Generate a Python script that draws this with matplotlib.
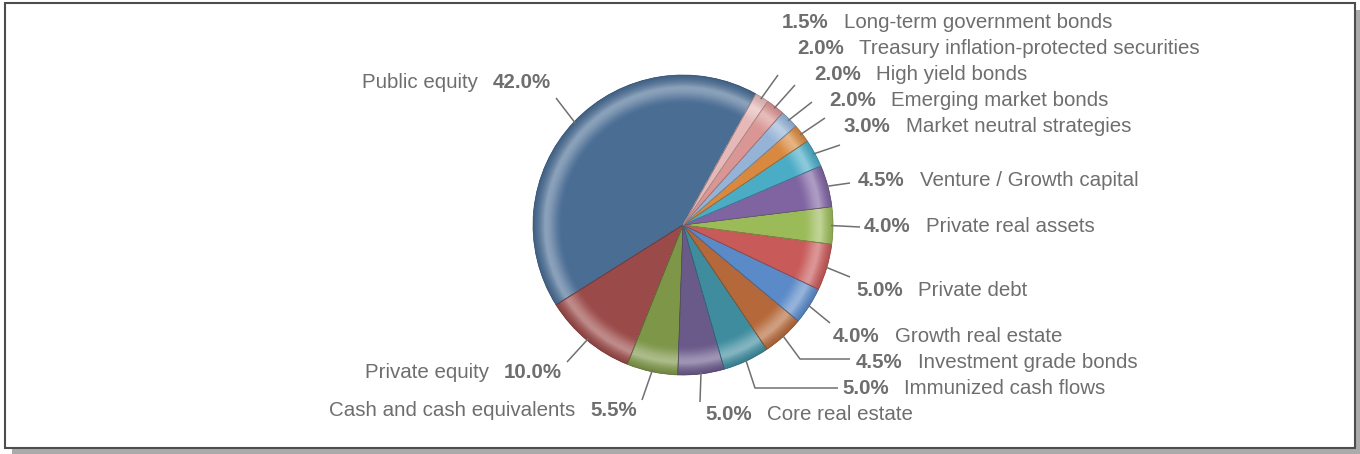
import matplotlib.pyplot as plt
import matplotlib.patches as mpatches
import matplotlib.colors as mcolors
import numpy as np

plt.rcParams['font.family'] = ['Liberation Sans', 'DejaVu Sans']

W, H = 1360, 454

names = ["Public equity", "Private equity", "Cash and cash equivalents", "Core real estate",
         "Immunized cash flows", "Investment grade bonds", "Growth real estate", "Private debt",
         "Private real assets", "Venture / Growth capital", "Market neutral strategies",
         "Emerging market bonds", "High yield bonds", "Treasury inflation-protected securities",
         "Long-term government bonds"]
shares = [42.0, 10.0, 5.5, 5.0, 5.0, 4.5, 4.0, 5.0, 4.0, 4.5, 3.0, 2.0, 2.0, 2.0, 1.5]
colors = ["#4A6D94", "#9A4A48", "#7D9648", "#6A5A8A", "#3E8C9E", "#B5693A", "#5A8AC8",
          "#C85A5A", "#9BBB59", "#8064A2", "#4BACC6", "#D8893F", "#95B3D7", "#D99694",
          "#E6B9B8"]

# label layout in pixels from top-left: (text x, text y, side, leader points)
layout = [
    (551, 83, "L", [(556, 98)]),
    (562, 372, "L", [(567, 362)]),
    (637, 410, "L", [(642, 400)]),
    (705, 414, "R", [(700, 402)]),
    (842, 388, "R", [(755, 388), (838, 388)]),
    (856, 362, "R", [(800, 359), (850, 359)]),
    (833, 336, "R", [(830, 323)]),
    (856, 290, "R", [(850, 277)]),
    (864, 226, "R", [(860, 227)]),
    (858, 180, "R", [(850, 183)]),
    (844, 126, "R", [(840, 145)]),
    (829, 100, "R", [(825, 118)]),
    (814, 74, "R", [(812, 102)]),
    (797, 48, "R", [(795, 85)]),
    (782, 22, "R", [(778, 75)]),
]

cx, cy, R = 683, H - 225, 150
text_col = "#6E6E6E"
line_col = "#707070"
fs = 14.8

fig = plt.figure(figsize=(W / 100, H / 100), dpi=100)
ax = fig.add_axes([0, 0, 1, 1])

# frame with drop shadow
ax.add_patch(mpatches.Rectangle((12, 0), W - 12, H - 10, facecolor="#ABABAB", edgecolor="none", zorder=0))
ax.add_patch(mpatches.Rectangle((5, H - 448), 1350, 445, facecolor="white", edgecolor="#4D4D4D",
                                lw=1.5, zorder=1))

wedges, _ = ax.pie(shares, colors=colors, startangle=61, counterclock=True, radius=R,
                   center=(cx, cy), frame=True,
                   wedgeprops=dict(edgecolor="none", zorder=2))
ax.set_xlim(0, W)
ax.set_ylim(0, H)
ax.set_aspect("auto")
ax.axis("off")


def mix(c, t, k):
    a = np.array(mcolors.to_rgb(c))
    b = np.array(mcolors.to_rgb(t))
    return tuple(a + (b - a) * k)


def rim_color(c, u):
    # u = 0 at inner edge of the bevel, 1 at the outer rim
    if u < 0.6:
        return mix(c, "white", 0.36 * np.sin(np.pi * u / 1.2) ** 2)
    v = (u - 0.6) / 0.4
    return mix(mix(c, "white", 0.36 * (1 - v) ** 1.5), "black", 0.10 * v)


# bevel: stacked full wedges from the rim inward so no gaps appear
steps = 30
r_in = 0.80 * R
for w, c in zip(wedges, colors):
    for i in range(steps, 0, -1):
        r1 = r_in + (R - r_in) * i / steps
        u = (i - 0.5) / steps
        ax.add_patch(mpatches.Wedge((cx, cy), r1, w.theta1, w.theta2,
                                    facecolor=rim_color(c, u), edgecolor="none", zorder=3))
    ax.add_patch(mpatches.Wedge((cx, cy), r_in, w.theta1, w.theta2,
                                facecolor=c, edgecolor="none", zorder=3))
    ax.add_patch(mpatches.Wedge((cx, cy), R, w.theta1, w.theta2, facecolor="none",
                                edgecolor=mix(c, "black", 0.25), lw=0.5, zorder=4))

fig.canvas.draw()
rend = fig.canvas.get_renderer()
inv = ax.transData.inverted()

for w, name, pct, (tx, ty, side, pts) in zip(wedges, names, shares, layout):
    mid = np.deg2rad(0.5 * (w.theta1 + w.theta2))
    xs = [cx + (R - 2) * np.cos(mid)] + [p[0] for p in pts]
    ys = [cy + (R - 2) * np.sin(mid)] + [H - p[1] for p in pts]
    ax.plot(xs, ys, color=line_col, lw=1.1, zorder=5, solid_capstyle="butt")

    y = H - ty
    label = f"{pct:.1f}%"
    if side == "R":
        t = ax.text(tx, y, label, fontsize=fs, fontweight="bold", color=text_col,
                    ha="left", va="center", zorder=6)
        bb = t.get_window_extent(rend)
        x_end = inv.transform((bb.x1, 0))[0]
        ax.text(x_end + 15, y, name, fontsize=fs, color=text_col, ha="left", va="center", zorder=6)
    else:
        t = ax.text(tx, y, label, fontsize=fs, fontweight="bold", color=text_col,
                    ha="right", va="center", zorder=6)
        bb = t.get_window_extent(rend)
        x_start = inv.transform((bb.x0, 0))[0]
        ax.text(x_start - 15, y, name, fontsize=fs, color=text_col, ha="right", va="center", zorder=6)

fig.savefig("out.png", dpi=100)
